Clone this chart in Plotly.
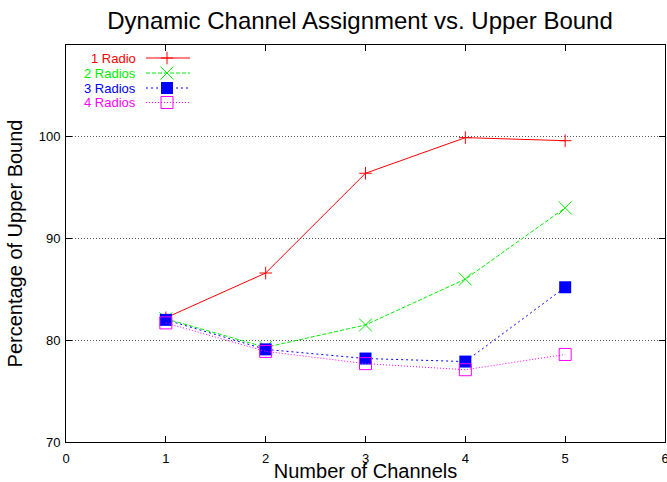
import plotly.graph_objects as go

# Number of channels on the x axis
channels = [1, 2, 3, 4, 5]

# Percentage of the upper bound reached by each radio configuration
radio_1 = [82.2, 86.6, 96.4, 99.9, 99.6]
radio_2 = [82.1, 79.3, 81.5, 86.0, 93.0]
radio_3 = [82.0, 79.1, 78.2, 77.9, 85.2]
radio_4 = [81.7, 78.9, 77.7, 77.1, 78.6]

series_names = ["1 Radio", "2 Radios", "3 Radios", "4 Radios"]
series_values = [radio_1, radio_2, radio_3, radio_4]

x_ticks = [0, 1, 2, 3, 4, 5, 6]
y_ticks = [70, 80, 90, 100]

FONT = "Liberation Sans, Arial, Helvetica, sans-serif"
W, H = 667, 482
L, R, T, B = 66, 2, 45, 40

styles = [
    dict(color="#ff0000", dash="solid", symbol="cross-thin", size=9),
    dict(color="#00ee00", dash="4px,2px", symbol="x-thin", size=13),
    dict(color="#0000ff", dash="2px,3px", symbol="square", size=12),
    dict(color="#ff00ff", dash="1px,2px", symbol="square-open", size=12),
]

fig = go.Figure()

for name, vals, st in zip(series_names, series_values, styles):
    filled = st["symbol"] == "square"
    fig.add_trace(go.Scatter(
        x=channels, y=vals, name=name, mode="lines+markers",
        line=dict(color=st["color"], width=1, dash=st["dash"]),
        marker=dict(symbol=st["symbol"], size=st["size"],
                    color=st["color"],
                    line=dict(color=st["color"], width=1 if not filled else 0)),
        showlegend=False, xaxis="x", yaxis="y",
    ))

# Key in the upper-left corner: label on the left, line sample on the right.
# Drawn on an overlay axis measured in pixels of the plot area.
key_text_right = 138 - L
key_line = (146 - L, 190 - L)
key_marker = 167 - L
key_rows = [58 - T, 73 - T, 88 - T, 102.5 - T]
for name, st, ry in zip(series_names, styles, key_rows):
    filled = st["symbol"] == "square"
    fig.add_trace(go.Scatter(
        x=[key_line[0], key_line[1]], y=[ry, ry], mode="lines",
        line=dict(color=st["color"], width=1, dash=st["dash"]),
        showlegend=False, hoverinfo="skip", xaxis="x2", yaxis="y2",
    ))
    fig.add_trace(go.Scatter(
        x=[key_marker], y=[ry], mode="markers",
        marker=dict(symbol=st["symbol"], size=st["size"], color=st["color"],
                    line=dict(color=st["color"], width=1 if not filled else 0)),
        showlegend=False, hoverinfo="skip", xaxis="x2", yaxis="y2",
    ))
    fig.add_annotation(
        x=key_text_right, y=ry, xref="x2", yref="y2", text=name,
        showarrow=False, xanchor="right", yanchor="middle",
        font=dict(family=FONT, size=13, color=st["color"]),
    )

pw, ph = W - L - R, H - T - B

fig.update_layout(
    width=W, height=H,
    margin=dict(l=L, r=R, t=T, b=B, pad=0, autoexpand=False),
    paper_bgcolor="white", plot_bgcolor="white",
    font=dict(family=FONT, color="black"),
    title=dict(text="Dynamic Channel Assignment vs. Upper Bound",
               font=dict(family=FONT, size=24, color="black"),
               x=360 / W, xref="container", xanchor="center",
               y=1 - 21 / H, yref="container", yanchor="middle"),
    xaxis=dict(range=[0, 6], tickvals=x_ticks, ticks="inside", ticklen=6,
               tickcolor="black", showline=True, linecolor="black", linewidth=1,
               mirror="ticks", showgrid=False, zeroline=False,
               automargin=False,
               ticklabeloverflow="allow", ticklabelstandoff=4,
               tickfont=dict(family=FONT, size=13, color="black"),
               title=dict(text="Number of Channels",
                          font=dict(family=FONT, size=20, color="black"),
                          standoff=0)),
    yaxis=dict(range=[70, 109], tickvals=y_ticks, ticks="inside", ticklen=6,
               tickcolor="black", showline=True, linecolor="black", linewidth=1,
               mirror="ticks", showgrid=True, gridcolor="#555555",
               griddash="1px,2px", gridwidth=1, zeroline=False,
               automargin=False, ticklabelstandoff=2,
               tickfont=dict(family=FONT, size=13, color="black"),
               title=dict(text="Percentage of Upper Bound",
                          font=dict(family=FONT, size=20, color="black"),
                          standoff=10)),
    xaxis2=dict(range=[0, pw], overlaying="x", visible=False, fixedrange=True),
    yaxis2=dict(range=[ph, 0], overlaying="y", visible=False, fixedrange=True),
)

fig.write_html("out.html")
